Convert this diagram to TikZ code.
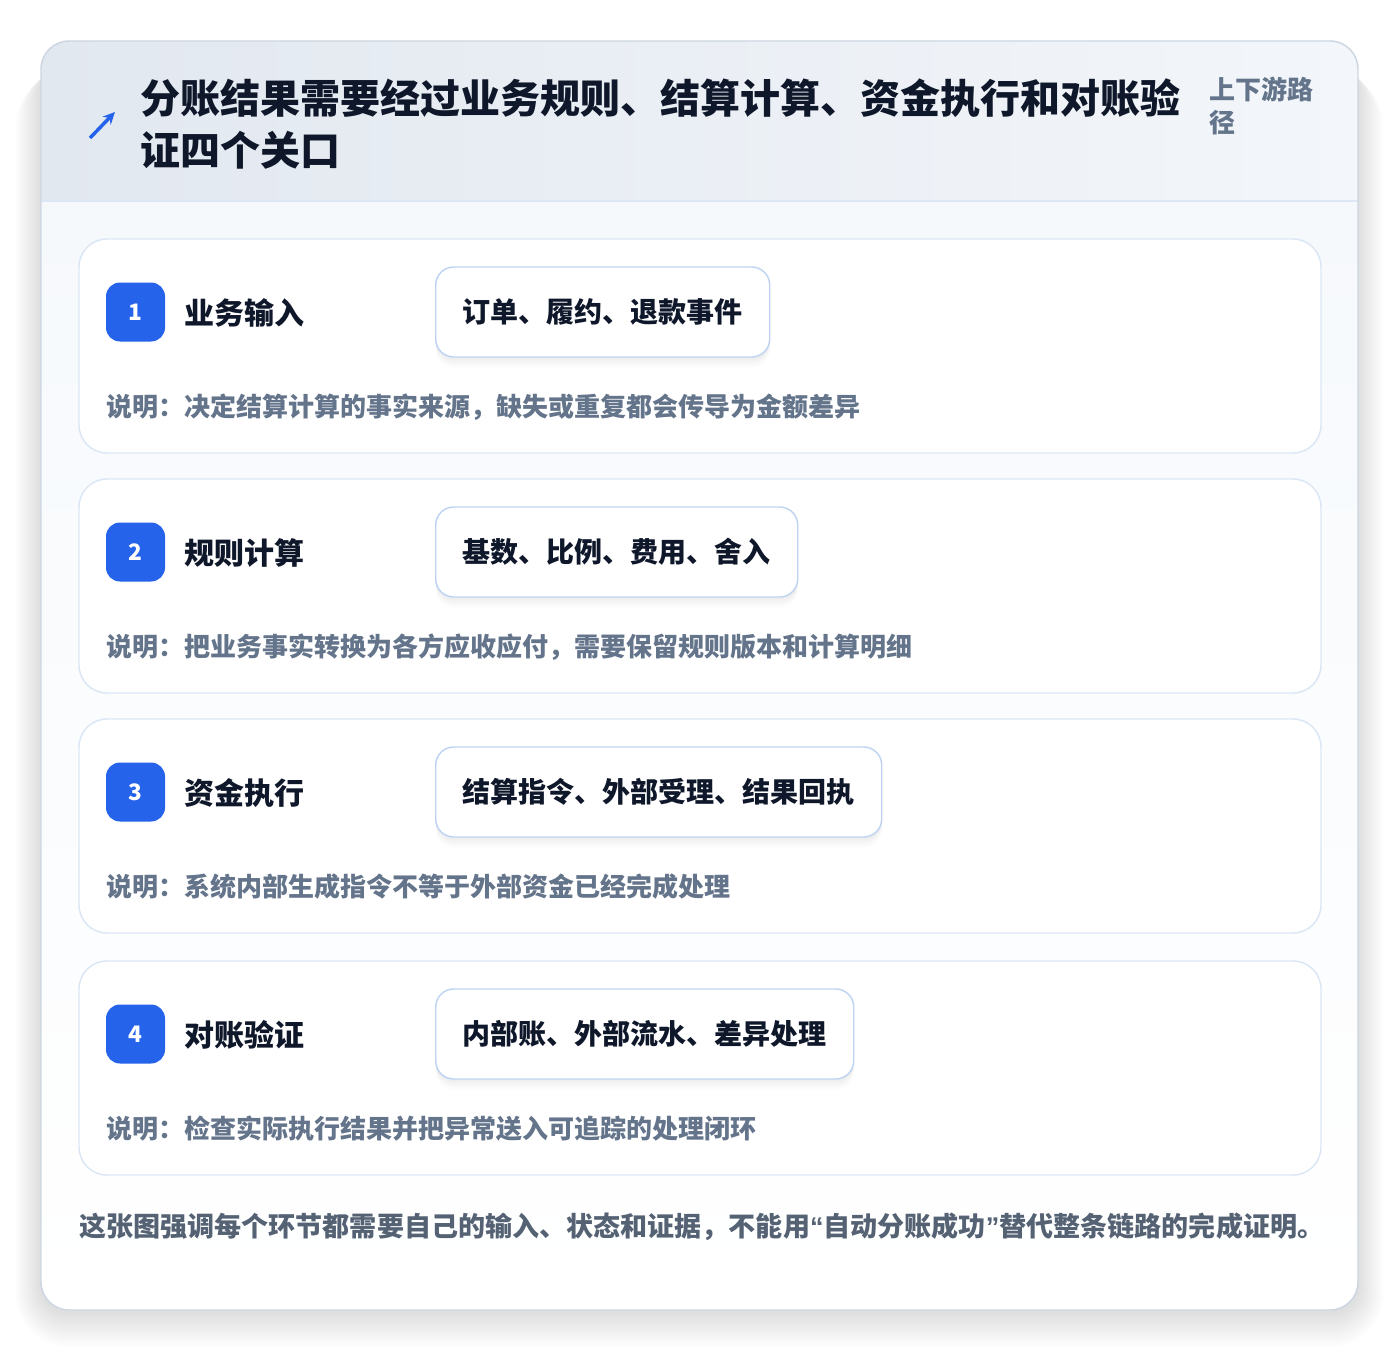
\documentclass[tikz,border=0pt]{standalone}
\usepackage{fontspec}
\setmainfont{Noto Sans CJK SC}
\newfontfamily\quotefont{Liberation Sans}
\usetikzlibrary{arrows.meta,shadows}
\definecolor{ink}{HTML}{0F172A}
\definecolor{muted}{HTML}{64748B}
\definecolor{footgray}{HTML}{556274}
\definecolor{accent}{HTML}{2563EB}
\definecolor{outerline}{HTML}{CDD6E2}
\definecolor{hdrL}{HTML}{E2E8F0}
\definecolor{hdrR}{HTML}{F3F6FA}
\definecolor{hdrline}{HTML}{DCE6F4}
\definecolor{bodyT}{HTML}{F6F9FC}
\definecolor{cardline}{HTML}{DCE7F5}
\definecolor{tagline}{HTML}{BED4F2}
\tikzset{
  cardbox/.style={draw=cardline, line width=1.1pt, fill=white, rounded corners=21pt},
  badge/.style={fill=accent, rounded corners=10.5pt, minimum size=44.25pt, inner sep=0pt,
    text=white, font=\bfseries\fontsize{17pt}{20pt}\selectfont},
  steplabel/.style={inner sep=0pt, text=ink, font=\bfseries\fontsize{22.5pt}{27pt}\selectfont},
  tagbox/.style={draw=tagline, line width=1.1pt, fill=white, rounded corners=13.5pt,
    inner xsep=20.25pt, inner ysep=0pt, minimum height=67.5pt, text=ink,
    font=\bfseries\fontsize{21pt}{25pt}\selectfont,
    drop shadow={shadow xshift=0pt, shadow yshift=-2pt, opacity=0.02, fill=black},
    drop shadow={shadow xshift=0pt, shadow yshift=-4pt, opacity=0.02, fill=black},
    drop shadow={shadow xshift=0pt, shadow yshift=-6pt, opacity=0.015, fill=black},
    drop shadow={shadow xshift=0pt, shadow yshift=-8pt, opacity=0.01, fill=black}},
  desc/.style={inner sep=0pt, text=muted, font=\bfseries\fontsize{19.5pt}{24pt}\selectfont},
}
\begin{document}
\begin{tikzpicture}[x=0.75pt,y=-0.75pt]
\useasboundingbox (0,0) rectangle (1400,1352);
\fill[white] (0,0) rectangle (1400,1352);
% soft shadow of the outer card
\foreach \i in {1,...,16}{
  \pgfmathsetmacro\rr{21+1.2*\i}
  \fill[black, opacity=0.006, rounded corners=\rr pt]
    (41-1.6*\i, 60+0.8*\i) rectangle (1358+1.6*\i, 1312+2.2*\i);
}
% outer card fill
\begin{scope}
  \clip[rounded corners=21pt] (41,41) rectangle (1358,1310);
  \fill[white] (41,41) rectangle (1358,1310);
  \shade[left color=hdrL, right color=hdrR] (41,41) rectangle (1358,201);
  \shade[top color=bodyT, bottom color=white] (41,201) rectangle (1358,1310);
\end{scope}
\draw[hdrline, line width=1.1pt] (41,201) -- (1358,201);
\draw[outerline, line width=1.1pt, rounded corners=21pt] (41,41) rectangle (1358,1310);
% header
\coordinate (arS) at (90,138);
\coordinate (arE) at (115,112);
\draw[accent, line width=2.6pt, -{Stealth[length=9pt,width=8.5pt]}] (arS) -- (arE);
\node[anchor=west, inner sep=0pt, align=left, text=ink,
  font=\bfseries\fontsize{30pt}{39pt}\selectfont] (title) at (140,124)
  {分账结果需要经过业务规则、结算计算、资金执行和对账验\\证四个关口};
\node[anchor=west, inner sep=0pt, align=left, text=muted,
  font=\bfseries\fontsize{19.5pt}{24.75pt}\selectfont] (side) at (1209,106)
  {上下游路\\径};
% steps
\foreach \n/\t/\lab/\tag/\desctext in {
  1/239/业务输入/订单、履约、退款事件/说明：决定结算计算的事实来源，缺失或重复都会传导为金额差异,
  2/479/规则计算/基数、比例、费用、舍入/说明：把业务事实转换为各方应收应付，需要保留规则版本和计算明细,
  3/719/资金执行/结算指令、外部受理、结果回执/说明：系统内部生成指令不等于外部资金已经完成处理,
  4/961/对账验证/内部账、外部流水、差异处理/说明：检查实际执行结果并把异常送入可追踪的处理闭环}{
  \draw[cardbox] (79,\t) rectangle (1321,\t+214);
  \node[badge] (badge\n) at (135.5,\t+73) {\n};
  \node[steplabel, anchor=west] (label\n) at (184,\t+74) {\lab};
  \node[tagbox, anchor=west] (tag\n) at (435,\t+73) {\tag};
  \node[desc, anchor=west] (desc\n) at (106,\t+168) {\desctext};
}
% footer
\node[anchor=west, inner sep=0pt, text=footgray,
  font=\bfseries\fontsize{20.3pt}{24pt}\selectfont] (footer) at (79,1227)
  {这张图强调每个环节都需要自己的输入、状态和证据，不能用{\quotefont\bfseries “}自动分账成功{\quotefont\bfseries ”}替代整条链路的完成证明。};
\end{tikzpicture}
\end{document}
